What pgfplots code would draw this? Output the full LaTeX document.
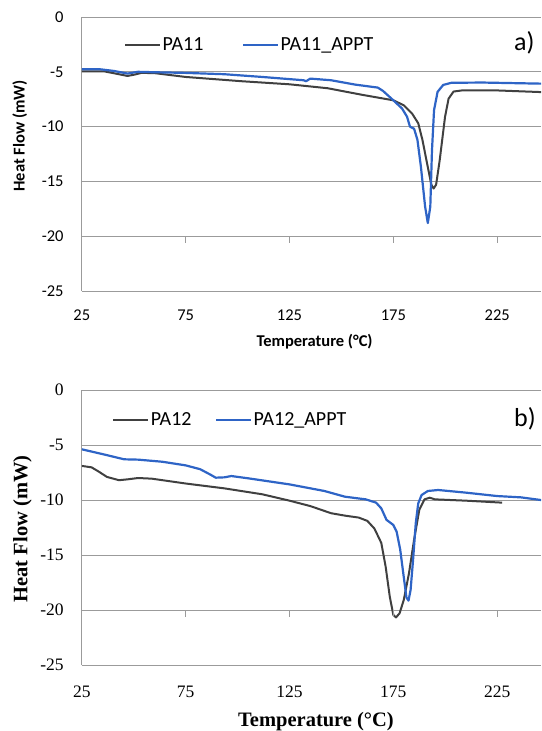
\documentclass[border=0pt]{standalone}
\usepackage{pgfplots}
\pgfplotsset{compat=1.18}
\usepackage{fontspec}
\setmainfont{Carlito}
\newfontfamily\serifb{Liberation Serif}
\definecolor{dsc}{RGB}{64,64,64}
\definecolor{bsc}{RGB}{46,100,198}
\definecolor{gridc}{RGB}{155,155,155}

\pgfplotsset{
  panel/.style={
    scale only axis, width=459.2pt,
    xmin=25, xmax=246.1, ymin=-25, ymax=0,
    xtick={25,75,125,175,225}, ytick={-25,-20,...,0},
    major tick length=0pt,
    ymajorgrids, grid style={gridc, line width=0.9pt},
    axis lines*=left, axis line style={gridc, line width=0.9pt, -},
    /pgf/number format/assume math mode=true,
    legend columns=2,
    legend style={draw=none, fill=none, inner sep=0pt, anchor=west,
      nodes={inner xsep=1.5pt, inner ysep=0pt}},
    legend image code/.code={\draw[##1] (0pt,0pt) -- (35pt,0pt);},
    yticklabel style={anchor=east, inner sep=0pt, xshift=-18pt},
  },
  blk/.style={dsc, line width=2pt, line join=round},
  blu/.style={bsc, line width=2.2pt, line join=round},
}

\begin{document}
\begin{tikzpicture}
\useasboundingbox (0,0) rectangle (541pt,-731pt);

% ---------------- panel a ----------------
\begin{axis}[panel,
  at={(81.8pt,-291pt)}, anchor=south west, height=274pt,
  ticklabel style={font=\fontsize{16.5}{16.5}\selectfont},
  xticklabel style={anchor=center, inner sep=0pt, yshift=-24pt},
  xlabel={\bfseries Temperature (°C)},
  ylabel={\bfseries Heat Flow (mW)},
  label style={font=\fontsize{16.5}{16.5}\selectfont},
  xlabel style={at={(axis description cs:0.507,0)}, anchor=center, yshift=-51pt},
  ylabel style={at={(axis description cs:-0.135,0.566)}, anchor=center, rotate=0},
  legend style={at={(axis description cs:0.092,0.898)}, font=\fontsize{20}{20}\selectfont,
    /tikz/every even column/.append style={column sep=37pt}},
]
\addplot[blk] coordinates {
(25,-4.95) (35.5,-4.95) (41,-5.15) (47,-5.38) (50.5,-5.25) (53.7,-5.1) (60,-5.12)
(75,-5.47) (102,-5.86) (125,-6.14) (143.4,-6.5) (160,-7.1) (175,-7.6) (180,-8.05)
(184,-8.8) (187,-9.7) (189,-11.2) (191.6,-13.7) (193.3,-15.3) (194.4,-15.65)
(195.6,-15.3) (197.3,-13.1) (199.9,-9.1) (201.6,-7.45) (204,-6.8) (208,-6.7)
(225,-6.7) (246,-6.85) (255,-6.85)
};
\addlegendentry{PA11}
\addplot[blu] coordinates {
(25,-4.77) (33.8,-4.77) (40.4,-4.92) (47,-5.16) (52,-5.0) (60,-5.04) (75,-5.1)
(93.6,-5.22) (111.9,-5.47) (131.8,-5.77) (133,-5.86) (135,-5.62) (145,-5.77)
(156.7,-6.17) (167.5,-6.44) (170,-6.74) (175,-7.6) (179.2,-8.35) (181.6,-9.1)
(183,-10.0) (185,-10.2) (186.6,-11.2) (188.3,-13.7) (190.3,-17.3) (191.6,-18.8)
(192.8,-17.3) (193.6,-12.2) (194.6,-8.5) (196.3,-6.83) (199,-6.2) (203,-6.0)
(218,-5.98) (246,-6.08) (255,-6.1)
};
\addlegendentry{PA11\_APPT}
\draw[gridc, line width=0.9pt] (axis cs:75,-20) -- ++(0pt,-7pt);
\draw[gridc, line width=0.9pt] (axis cs:125,-20) -- ++(0pt,-7pt);
\draw[gridc, line width=0.9pt] (axis cs:175,-20) -- ++(0pt,-7pt);
\draw[gridc, line width=0.9pt] (axis cs:225,-20) -- ++(0pt,-7pt);
\end{axis}
\node[anchor=west, inner sep=0pt, font=\fontsize{26}{26}\selectfont] at (514pt,-43pt) {a)};

% ---------------- panel b ----------------
\begin{axis}[panel,
  at={(81.8pt,-665pt)}, anchor=south west, height=275pt,
  ticklabel style={font=\serifb\fontsize{17.5}{17.5}\selectfont},
  xticklabel style={anchor=center, inner sep=0pt, yshift=-27pt},
  xlabel={\bfseries Temperature (°C)},
  ylabel={\bfseries Heat Flow (mW)},
  label style={font=\serifb\fontsize{20.5}{20.5}\selectfont},
  xlabel style={at={(axis description cs:0.51,0)}, anchor=center, yshift=-57pt},
  ylabel style={at={(axis description cs:-0.129,0.495)}, anchor=center, rotate=0},
  legend style={at={(axis description cs:0.066,0.891)}, font=\fontsize{20}{20}\selectfont,
    /tikz/every even column/.append style={column sep=22pt}},
]
\addplot[blk] coordinates {
(25,-6.9) (29.7,-7.03) (33,-7.4) (37.1,-7.9) (42.9,-8.2) (47.1,-8.12) (52.1,-8.0)
(58.7,-8.06) (75,-8.5) (93.6,-8.94) (111.9,-9.48) (125,-10.06) (135,-10.55)
(145,-11.2) (151.7,-11.42) (158.4,-11.6) (162.5,-11.9) (165.9,-12.6) (169.2,-13.9)
(171.3,-16.06) (173.3,-18.8) (175,-20.45) (176.3,-20.67) (178,-20.3) (180,-19.1)
(182.5,-16.7) (185,-13.6) (187.5,-10.9) (190,-9.94) (192.5,-9.79) (195,-9.94)
(209.9,-10.06) (227.4,-10.24)
};
\addlegendentry{PA12}
\addplot[blu] coordinates {
(25,-5.39) (35.5,-5.85) (45.4,-6.3) (52.1,-6.33) (63.7,-6.52) (75,-6.85) (82,-7.2)
(87,-7.7) (89.5,-7.97) (93.6,-7.94) (97,-7.82) (105.2,-8.03) (125,-8.58)
(141.8,-9.18) (151.7,-9.7) (161.7,-9.94) (166.7,-10.24) (169.2,-10.76)
(171.7,-11.8) (175,-12.27) (176.6,-12.88) (178.3,-14.5) (180,-16.97) (181.3,-18.85)
(182.3,-19.15) (183.3,-18.2) (184.5,-15.45) (185.8,-12.1) (187,-10.3) (188.6,-9.55)
(191.6,-9.18) (196.6,-9.09) (209.9,-9.33) (225,-9.64) (236.5,-9.76) (246,-10.0)
(255,-10.2)
};
\addlegendentry{PA12\_APPT}
\draw[gridc, line width=0.9pt] (axis cs:75,-20) -- ++(0pt,-7pt);
\draw[gridc, line width=0.9pt] (axis cs:125,-20) -- ++(0pt,-7pt);
\draw[gridc, line width=0.9pt] (axis cs:175,-20) -- ++(0pt,-7pt);
\draw[gridc, line width=0.9pt] (axis cs:225,-20) -- ++(0pt,-7pt);
\end{axis}
\node[anchor=west, inner sep=0pt, font=\fontsize{26}{26}\selectfont] at (514pt,-419pt) {b)};
\end{tikzpicture}
\end{document}
